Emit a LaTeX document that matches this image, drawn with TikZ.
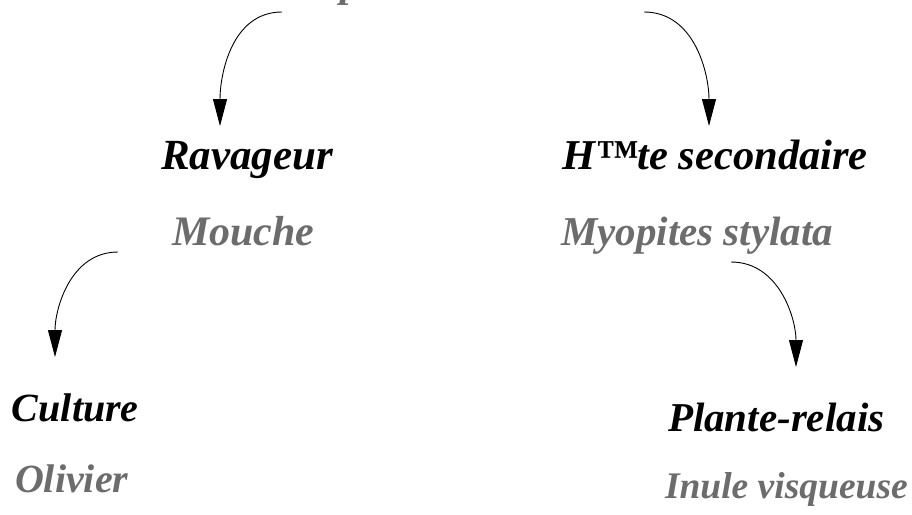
\documentclass[tikz,border=0pt]{standalone}
\usepackage{fontspec}
\newfontfamily\lab{Liberation Serif}
\usetikzlibrary{arrows.meta}
\definecolor{labgray}{RGB}{108,108,108}
\tikzset{
  lbl/.style={anchor=base west, inner sep=0pt, outer sep=0pt},
  blk/.style={lbl, text=black},
  gry/.style={lbl, text=labgray},
  curved/.style={draw=black, line width=0.9pt, -{Triangle[length=27pt,width=14pt]}}
}
\newcommand{\fsz}[1]{\lab\bfseries\itshape\fontsize{#1}{#1}\selectfont}
\begin{document}
\begin{tikzpicture}[x=1pt,y=-1pt]
\useasboundingbox (0,0) rectangle (912,514);
\begin{scope}
\clip (0,0) rectangle (912,514);
\node[gry, font=\fsz{42}] (toptext1) at (340,-4) {p};
\node[gry, font=\fsz{42}] (toptext2) at (533,-6) {,};
\end{scope}
\node[blk, font=\fsz{43}] (rav) at (161,169) {Ravageur};
\node[blk, font=\fsz{42.5}] (hote) at (562,169) {H™te secondaire};
\node[gry, font=\fsz{42}] (mouche) at (172,245) {Mouche};
\node[gry, font=\fsz{41}] (myo) at (561,245) {Myopites stylata};
\node[blk, font=\fsz{40}] (cult) at (12,421) {Culture};
\node[gry, font=\fsz{40}] (oliv) at (15,492) {Olivier};
\node[blk, font=\fsz{41}] (plante) at (668,431) {Plante-relais};
\node[gry, font=\fsz{37.5}] (inule) at (665,498) {Inule visqueuse};
\coordinate (s1) at (282,12);
\coordinate (e1) at (220,126);
\coordinate (s2) at (644,12);
\coordinate (e2) at (709,126);
\coordinate (s3) at (118,252);
\coordinate (e3) at (55,357);
\coordinate (s4) at (731,262);
\coordinate (e4) at (796,367);
\draw[curved] (s1) to[out=180,in=90] (e1);
\draw[curved] (s2) to[out=0,in=90] (e2);
\draw[curved] (s3) to[out=180,in=90] (e3);
\draw[curved] (s4) to[out=0,in=90] (e4);
\end{tikzpicture}
\end{document}
